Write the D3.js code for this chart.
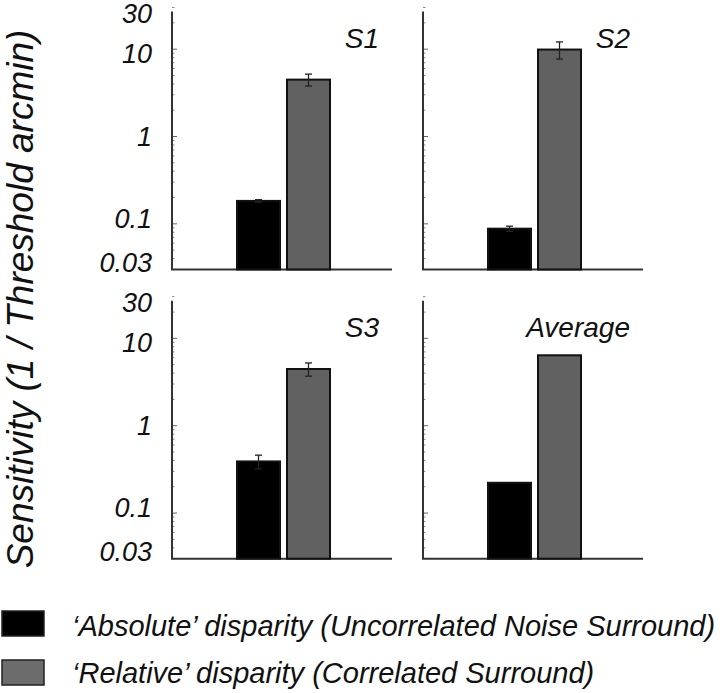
<!DOCTYPE html>
<html>
<head>
<meta charset="utf-8">
<script src="https://cdn.jsdelivr.net/npm/d3@7"></script>
<style>
  html, body { margin: 0; padding: 0; background: #fff; }
  text { font-family: "Liberation Sans", Arial, sans-serif; font-style: italic; }
</style>
</head>
<body>
<svg id="chart" width="720" height="693"></svg>
<script>
// ---- Data ----
const panels = ["S1", "S2", "S3", "Average"];
const series = ["\u2018Absolute\u2019 disparity (Uncorrelated Noise Surround)", "\u2018Relative\u2019 disparity (Correlated Surround)"];
const absoluteValues = [0.183, 0.088, 0.39, 0.222];
const absoluteErrors = [0.006, 0.006, 0.07, null];
const relativeValues = [4.48, 9.9, 4.46, 6.4];
const relativeErrors = [0.7, 2.2, 0.77, null];
const tickValues = [0.03, 0.1, 1, 10, 30];
const tickLabels = ["0.03", "0.1", "1", "10", "30"];
const yTitle = "Sensitivity (1 / Threshold arcmin)";

// ---- Layout ----
const svg = d3.select("#chart");
const colors = ["#000000", "#616161"];
const legendColors = ["#000000", "#6c6c6c"];
const panelLeft = [172, 423, 172, 423];
const panelTop = [7.5, 7.5, 296.7, 296.7];
const innerW = 220, innerH = 262;

const y = d3.scaleLog().domain([0.03, 30]).range([innerH, 0]);
const x = d3.scaleBand().domain([0, 1]).range([65, 158]).paddingInner(0.14).paddingOuter(0);
// tick labels sit on a slightly compressed copy of the axis (as in the original)
const labelPos = d => 6 + y(d) * 0.948;

// minor ticks
const minor = [];
[0.01, 0.1, 1, 10].forEach(dec => { for (let k = 2; k <= 9; k++) { const v = dec * k; if (v >= 0.03 && v <= 30) minor.push(v); } });

panels.forEach((name, i) => {
  const g = svg.append("g").attr("transform", `translate(${panelLeft[i]},${panelTop[i]})`);
  g.selectAll(".minor").data(minor).join("line")
    .attr("x1", 0).attr("x2", 2.5)
    .attr("y1", d => y(d)).attr("y2", d => y(d))
    .attr("stroke", "#888").attr("stroke-width", 1);
  g.selectAll(".major").data([0.1, 1, 10]).join("line")
    .attr("x1", 0).attr("x2", 5)
    .attr("y1", d => y(d)).attr("y2", d => y(d))
    .attr("stroke", "#666").attr("stroke-width", 1);
  g.append("line").attr("x1", 0).attr("x2", 0).attr("y1", y(30) + 4).attr("y2", y(0.03))
    .attr("stroke", "#333").attr("stroke-width", 2);
  g.append("line").attr("x1", -1).attr("x2", innerW).attr("y1", y(0.03)).attr("y2", y(0.03))
    .attr("stroke", "#333").attr("stroke-width", 2);
  if (i % 2 === 0) {
    g.selectAll(".tl").data(tickValues).join("text")
      .attr("x", -20).attr("y", d => labelPos(d)).attr("dy", "0.36em")
      .attr("text-anchor", "end").attr("font-size", 27).attr("fill", "#111")
      .text((d, j) => tickLabels[j]);
  }
  const vals = [absoluteValues[i], relativeValues[i]];
  const errs = [absoluteErrors[i], relativeErrors[i]];
  g.selectAll(".bar").data(vals).join("rect")
    .attr("x", (d, j) => x(j)).attr("width", x.bandwidth())
    .attr("y", d => y(d)).attr("height", d => y(0.03) - y(d))
    .attr("fill", (d, j) => colors[j]).attr("stroke", "#111").attr("stroke-width", 2);
  vals.forEach((v, j) => {
    const e = errs[j];
    if (e == null) return;
    const cx = x(j) + x.bandwidth() / 2;
    const eg = g.append("g").attr("stroke", "#222").attr("stroke-width", 1.3);
    eg.append("line").attr("x1", cx).attr("x2", cx).attr("y1", y(v + e)).attr("y2", y(v - e));
    eg.append("line").attr("x1", cx - 3.5).attr("x2", cx + 3.5).attr("y1", y(v + e)).attr("y2", y(v + e));
    eg.append("line").attr("x1", cx - 3.5).attr("x2", cx + 3.5).attr("y1", y(v - e)).attr("y2", y(v - e));
  });
  g.append("text").attr("x", 207).attr("y", 40.5).attr("text-anchor", "end")
    .attr("font-size", 28).attr("fill", "#111").text(name);
});

svg.append("text")
  .attr("transform", "translate(33,299) rotate(-90)")
  .attr("text-anchor", "middle").attr("font-size", 37).attr("fill", "#111")
  .text(yTitle);

const legendY = [611, 660];
const legendTextY = [636, 683];
series.forEach((s, j) => {
  svg.append("rect").attr("x", 2).attr("y", legendY[j]).attr("width", 42).attr("height", 25)
    .attr("fill", legendColors[j]).attr("stroke", "#222").attr("stroke-width", 1.5);
  svg.append("text").attr("x", 72).attr("y", legendTextY[j])
    .attr("font-size", 29).attr("fill", "#111").text(s);
});
</script>
</body>
</html>
